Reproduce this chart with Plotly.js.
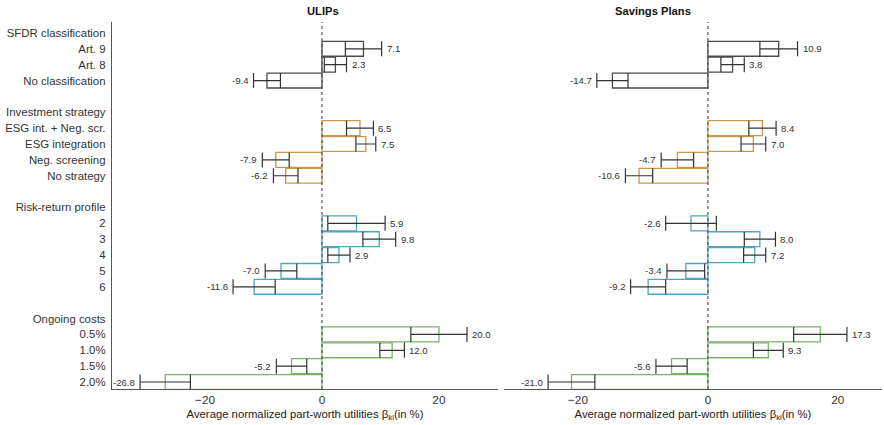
<!DOCTYPE html>
<html>
<head>
<meta charset="utf-8">
<script src="https://cdn.plot.ly/plotly-3.0.1.min.js"></script>
<style>html,body{margin:0;padding:0;background:#fff;}#chart{width:884px;height:425px;}</style>
</head>
<body>
<div id="chart"></div>
<script>
// ---- Data ----
const attributes = ["SFDR classification", "Investment strategy", "Risk-return profile", "Ongoing costs"];
const attributeColors = ["#4a4a4a", "#c9964f", "#4ea7c2", "#79b368"];

const levels = [
  ["Art. 9", "Art. 8", "No classification"],
  ["ESG int. + Neg. scr.", "ESG integration", "Neg. screening", "No strategy"],
  ["2", "3", "4", "5", "6"],
  ["0.5%", "1.0%", "1.5%", "2.0%"]
];

const ulipsValues = [
  [7.1, 2.3, -9.4],
  [6.5, 7.5, -7.9, -6.2],
  [5.9, 9.8, 2.9, -7.0, -11.6],
  [20.0, 12.0, -5.2, -26.8]
];
const ulipsErrors = [
  [3.1, 1.9, 2.3],
  [2.3, 1.7, 2.3, 2.1],
  [4.9, 2.8, 1.9, 2.7, 3.6],
  [4.8, 2.1, 2.6, 4.3]
];

const savingsValues = [
  [10.9, 3.8, -14.7],
  [8.4, 7.0, -4.7, -10.6],
  [-2.6, 8.0, 7.2, -3.4, -9.2],
  [17.3, 9.3, -5.6, -21.0]
];
const savingsErrors = [
  [2.9, 1.8, 2.4],
  [2.1, 1.9, 2.5, 2.1],
  [3.9, 2.4, 1.7, 2.9, 2.7],
  [4.1, 2.3, 2.4, 3.6]
];

// ---- Build rows ----
const tickvals = [], ticktext = [];
const barY = [], barColor = [];
const ulX = [], ulE = [], svX = [], svE = [];
let row = 0;
attributes.forEach((attr, g) => {
  if (g > 0) { row++; } // blank spacer row
  tickvals.push(row); ticktext.push(attr); row++;
  levels[g].forEach((lv, i) => {
    tickvals.push(row); ticktext.push(lv);
    barY.push(row); barColor.push(attributeColors[g]);
    ulX.push(ulipsValues[g][i]); ulE.push(ulipsErrors[g][i]);
    svX.push(savingsValues[g][i]); svE.push(savingsErrors[g][i]);
    row++;
  });
});
const nRows = row;

const FONT = "Liberation Sans, Arial, sans-serif";

function barTrace(xs, es, xa) {
  return {
    type: "bar", orientation: "h", x: xs, y: barY, xaxis: xa, yaxis: "y",
    width: 0.94,
    marker: { color: "rgba(255,255,255,1)", line: { color: barColor, width: 1.3 } },
    error_x: { type: "data", array: es, visible: true, color: "#333", thickness: 1.2, width: 7.5 },
    hoverinfo: "skip", showlegend: false
  };
}
function labelAnnotations(xs, es, xa) {
  return xs.map((v, i) => ({
    xref: xa, yref: "y",
    x: v >= 0 ? v + es[i] : v - es[i],
    y: barY[i],
    text: v.toFixed(1),
    xanchor: v >= 0 ? "left" : "right",
    xshift: v >= 0 ? 3 : -3,
    showarrow: false,
    font: { family: FONT, size: 9.6, color: "#333" }
  }));
}

const data = [
  barTrace(ulX, ulE, "x"),
  barTrace(svX, svE, "x2")
];

const xTitle = "Average normalized part-worth utilities β<sub>kl</sub>(in %)";
function xaxis(domain, range) {
  return {
    domain: domain, range: range, anchor: "y",
    tickvals: [-20, 0, 20], ticks: "", showgrid: false, zeroline: false,
    showline: true, linecolor: "#555", linewidth: 1.2,
    tickfont: { family: FONT, size: 11.8, color: "#333" },
    title: { text: xTitle, font: { family: FONT, size: 11.3, color: "#222" }, standoff: 3 }
  };
}

const layout = {
  width: 884, height: 425,
  margin: { l: 112, r: 2, t: 22, b: 36 },
  paper_bgcolor: "#fff", plot_bgcolor: "#fff",
  bargap: 0,
  xaxis: xaxis([0, 0.5013], [-35.9, 30.1]),
  xaxis2: xaxis([0.509, 1], [-31.4, 26.8]),
  yaxis: {
    range: [nRows - 0.56, -0.69], tickvals: tickvals, ticktext: ticktext,
    ticks: "", showgrid: false, zeroline: false,
    showline: true, linecolor: "#555", linewidth: 1.2,
    ticklabelstandoff: 3,
    tickfont: { family: FONT, size: 11.4, color: "#333" }
  },
  shapes: [
    { type: "line", xref: "x", yref: "paper", x0: 0, x1: 0, y0: 0, y1: 1, layer: "above", line: { color: "#555", width: 1.2, dash: "dot" } },
    { type: "line", xref: "x2", yref: "paper", x0: 0, x1: 0, y0: 0, y1: 1, layer: "above", line: { color: "#555", width: 1.2, dash: "dot" } }
  ],
  annotations: [
    { text: "<b>ULIPs</b>", xref: "paper", yref: "paper", x: 0.2507, y: 1, yanchor: "bottom", yshift: 3, showarrow: false, font: { family: FONT, size: 11.2, color: "#111" } },
    { text: "<b>Savings Plans</b>", xref: "paper", yref: "paper", x: 0.7545, y: 1, yanchor: "bottom", yshift: 3, showarrow: false, font: { family: FONT, size: 11.2, color: "#111" } }
  ].concat(labelAnnotations(ulX, ulE, "x"), labelAnnotations(svX, svE, "x2"))
};

Plotly.newPlot("chart", data, layout, { displayModeBar: false, staticPlot: true });
</script>
</body>
</html>
